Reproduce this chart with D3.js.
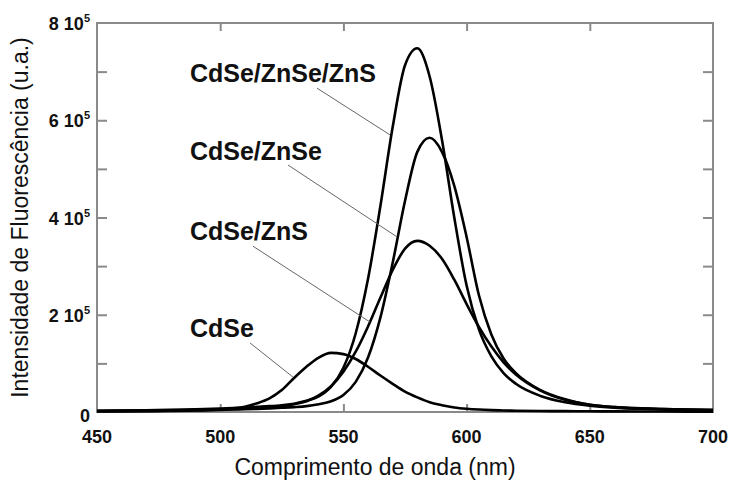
<!DOCTYPE html>
<html>
<head>
<meta charset="utf-8">
<script src="https://cdn.jsdelivr.net/npm/d3@7/dist/d3.min.js"></script>
<style>
  html, body { margin: 0; padding: 0; background: #fff; }
  svg { display: block; }
  text { font-family: "Liberation Sans", Arial, Helvetica, sans-serif; }
</style>
</head>
<body>
<svg id="chart" width="732" height="483"></svg>
<script>
// ---- data ----
const wavelengths = [450, 470, 490, 500, 505, 510, 515, 520, 525, 530, 535, 540, 545, 550, 555, 560, 565, 570, 575, 580, 585, 590, 595, 600, 605, 610, 615, 620, 630, 640, 650, 660, 680, 700];

const cdse        = [1000, 1500, 3000, 5000, 7500, 11000, 18000, 28000, 45000, 70000, 93000, 112000, 121500, 119000, 109000, 93000, 75000, 58000, 42000, 30000, 20000, 14000, 9400, 6700, 5000, 3900, 3200, 2700, 2100, 1700, 1400, 1200, 900, 700];
const cdseZnS     = [2000, 2800, 4100, 5200, 5900, 6600, 7900, 9300, 12000, 16000, 22000, 34000, 53000, 83000, 124000, 176000, 235000, 292000, 336000, 352000, 342000, 315000, 272000, 222000, 175000, 135000, 102000, 77000, 44000, 25000, 15000, 10000, 6000, 4000];
const cdseZnSe    = [1800, 2400, 3500, 4400, 5000, 5600, 6500, 7400, 8600, 10000, 12000, 16000, 22000, 35000, 62000, 112000, 194000, 307000, 434000, 535000, 564000, 535000, 465000, 360000, 240000, 160000, 110000, 80000, 45000, 26000, 15000, 10000, 6000, 4000];
const cdseZnSeZnS = [2700, 3700, 5500, 7000, 8000, 9000, 10500, 12000, 14000, 17000, 23000, 32000, 52000, 91000, 162000, 274000, 423000, 586000, 713000, 748000, 690000, 560000, 400000, 260000, 170000, 115000, 80000, 58000, 33000, 20000, 13000, 9000, 5500, 4000];

const seriesNames = ["CdSe/ZnSe/ZnS", "CdSe/ZnSe", "CdSe/ZnS", "CdSe"];
const seriesValues = [cdseZnSeZnS, cdseZnSe, cdseZnS, cdse];

// label anchors and leader lines, in data units: [nm, intensity]
const labelAnchors = [[487.7, 679000], [487.7, 518000], [487.7, 354000], [487.7, 154000]];
const leaderStarts = [[539.3, 666000], [527.5, 508000], [513.3, 341000], [512.1, 142000]];
const leaderEnds   = [[568.9, 570000], [571.8, 360000], [560.8, 185000], [529.5, 72000]];

const xTicks = [450, 500, 550, 600, 650, 700];
const yTickMantissas = [0, 2, 4, 6, 8];
const yMinorTicks = [100000, 200000, 300000, 400000, 500000, 600000, 700000];

const xTitle = "Comprimento de onda (nm)";
const yTitle = "Intensidade de Fluorescência (u.a.)";

// ---- layout ----
const svg = d3.select("#chart");
const margin = { left: 97, right: 19, top: 23, bottom: 71 };
const W = 732, H = 483;
const x = d3.scaleLinear().domain([450, 700]).range([margin.left, W - margin.right]);
const y = d3.scaleLinear().domain([0, 800000]).range([H - margin.bottom, margin.top]);

const axisColor = "#8a8a8a";

// frame
svg.append("rect")
  .attr("x", x(450)).attr("y", y(800000))
  .attr("width", x(700) - x(450)).attr("height", y(0) - y(800000))
  .attr("fill", "none").attr("stroke", axisColor).attr("stroke-width", 2);

// inward ticks via d3 axes
const tickStyle = g => {
  g.select(".domain").remove();
  g.selectAll(".tick line").attr("stroke", axisColor).attr("stroke-width", 2);
  g.selectAll(".tick text").remove();
};
svg.append("g").attr("transform", `translate(0,${y(0)})`)
  .call(d3.axisTop(x).tickValues(xTicks.slice(1, -1)).tickSize(8)).call(tickStyle);
svg.append("g").attr("transform", `translate(0,${y(800000)})`)
  .call(d3.axisBottom(x).tickValues(xTicks.slice(1, -1)).tickSize(8)).call(tickStyle);
svg.append("g").attr("transform", `translate(${x(450)},0)`)
  .call(d3.axisRight(y).tickValues(yMinorTicks).tickSize(10)).call(tickStyle);
svg.append("g").attr("transform", `translate(${x(700)},0)`)
  .call(d3.axisLeft(y).tickValues(yMinorTicks).tickSize(10)).call(tickStyle);

// x tick labels
svg.append("g").selectAll("text").data(xTicks).join("text")
  .attr("x", d => x(d)).attr("y", y(0) + 31)
  .attr("text-anchor", "middle")
  .attr("font-size", 18).attr("font-weight", "bold").attr("fill", "#111")
  .text(d => d);

// y tick labels "n 10^5"
const yl = svg.append("g").selectAll("text").data(yTickMantissas).join("text")
  .attr("x", x(450) - 7)
  .attr("y", d => y(d * 100000) + 7)
  .attr("text-anchor", "end")
  .attr("font-size", 18).attr("font-weight", "bold").attr("fill", "#111");
yl.each(function(d) {
  const t = d3.select(this);
  if (d === 0) { t.attr("y", y(0) + 10).text("0"); return; }
  t.append("tspan").text(d + " 10");
  t.append("tspan").attr("dy", -8).attr("font-size", 11).text("5");
});

// curves
const line = d3.line()
  .x((d, i) => x(wavelengths[i]))
  .y(d => y(d))
  .curve(d3.curveMonotoneX);

svg.append("g").selectAll("path").data(seriesValues).join("path")
  .attr("d", d => line(d))
  .attr("fill", "none").attr("stroke", "#000").attr("stroke-width", 2.6)
  .attr("stroke-linejoin", "round");

// leader lines
svg.append("g").selectAll("line").data(seriesNames).join("line")
  .attr("x1", (d, i) => x(leaderStarts[i][0])).attr("y1", (d, i) => y(leaderStarts[i][1]))
  .attr("x2", (d, i) => x(leaderEnds[i][0])).attr("y2", (d, i) => y(leaderEnds[i][1]))
  .attr("stroke", "#666").attr("stroke-width", 1);

// series labels
svg.append("g").selectAll("text").data(seriesNames).join("text")
  .attr("x", (d, i) => x(labelAnchors[i][0])).attr("y", (d, i) => y(labelAnchors[i][1]))
  .attr("font-size", 25).attr("font-weight", "bold").attr("fill", "#111")
  .text(d => d);

// axis titles
svg.append("text")
  .attr("x", (x(450) + x(700)) / 2 - 30).attr("y", H - 8)
  .attr("text-anchor", "middle").attr("font-size", 23).attr("fill", "#111")
  .text(xTitle);
svg.append("text")
  .attr("transform", `translate(28,${(y(0) + y(800000)) / 2}) rotate(-90)`)
  .attr("text-anchor", "middle").attr("font-size", 23).attr("fill", "#111")
  .text(yTitle);
</script>
</body>
</html>
